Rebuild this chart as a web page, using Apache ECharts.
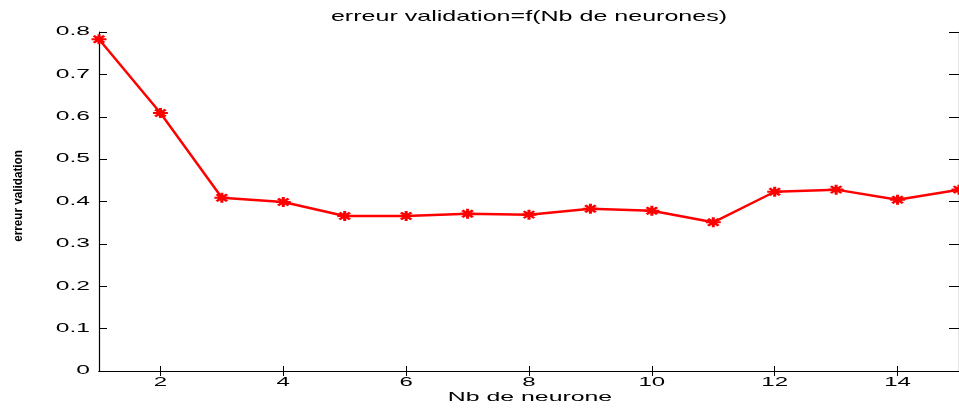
<!DOCTYPE html>
<html lang="fr">
<head>
    <meta charset="utf-8"/>
    <title>erreur validation=f(Nb de neurones)</title>
    <script src="https://cdn.jsdelivr.net/npm/echarts@6/dist/echarts.min.js"></script>
    <style>
        html, body { margin: 0; padding: 0; background: #fff; }
        #chart { width: 959px; height: 408px; }
    </style>
</head>
<body>
<div id="chart"></div>
<script>
    // données
    var neurones = [1, 2, 3, 4, 5, 6, 7, 8, 9, 10, 11, 12, 13, 14, 15];
    var erreurValidation = [0.783, 0.609, 0.409, 0.399, 0.366, 0.366, 0.371, 0.369, 0.383, 0.378, 0.351, 0.423, 0.428, 0.404, 0.428];
    var xTicks = [2, 4, 6, 8, 10, 12, 14];
    var yTicks = [0, 0.1, 0.2, 0.3, 0.4, 0.5, 0.6, 0.7, 0.8];
    var yTickLabels = ['0', '0.1', '0.2', '0.3', '0.4', '0.5', '0.6', '0.7', '0.8'];

    var titre = 'erreur validation=f(Nb de neurones)';
    var xNom = 'Nb de neurone';
    var yNom = 'erreur validation';

    var police = '"Liberation Sans", Arial, Helvetica, sans-serif';
    // étoile style matlab '*'
    var etoile = 'path://M0,5L10,5M5,0L5,10M1.5,1.5L8.5,8.5M8.5,1.5L1.5,8.5';

    var points = [];
    for (var i = 0; i < neurones.length; i++) {
        points.push([neurones[i], erreurValidation[i]]);
    }

    var axeNoir = {show: true, lineStyle: {color: '#000', width: 1.2}};

    var chart = echarts.init(document.getElementById('chart'));
    var option = {
        animation: false,
        backgroundColor: '#fff',
        grid: {left: 99, right: -6, top: 32, bottom: 37, containLabel: false},
        xAxis: [{
            type: 'value', min: 1, max: 15, position: 'bottom',
            axisLine: axeNoir,
            axisTick: {show: true, inside: true, length: 5, customValues: xTicks, lineStyle: {color: '#000'}},
            axisLabel: {show: false},
            splitLine: {show: false}
        }, {
            type: 'value', min: 1, max: 15, position: 'top',
            axisLine: axeNoir,
            axisTick: {show: true, inside: true, length: 5, customValues: xTicks, lineStyle: {color: '#000'}},
            axisLabel: {show: false},
            splitLine: {show: false}
        }],
        yAxis: [{
            type: 'value', min: 0, max: 0.8, interval: 0.1, position: 'left',
            axisLine: axeNoir,
            axisTick: {show: true, inside: true, length: 8, lineStyle: {color: '#000'}},
            axisLabel: {show: false},
            splitLine: {show: false}
        }, {
            type: 'value', min: 0, max: 0.8, interval: 0.1, position: 'right',
            axisLine: axeNoir,
            axisTick: {show: true, inside: true, length: 10, lineStyle: {color: '#000'}},
            axisLabel: {show: false},
            splitLine: {show: false}
        }],
        series: [{
            type: 'line',
            data: points,
            symbol: etoile,
            symbolSize: [15, 10],
            showAllSymbol: true,
            clip: false,
            lineStyle: {color: '#ff0000', width: 2.5},
            itemStyle: {color: '#ff0000', borderColor: '#ff0000', borderWidth: 2.5}
        }]
    };
    chart.setOption(option);

    // textes étirés horizontalement comme sur la figure
    var texte = function (str, x, y, taille, etirement, align, vAlign, rotation, gras) {
        return {
            type: 'text', x: x, y: y, z: 100, silent: true,
            scaleX: etirement, scaleY: 1, rotation: rotation || 0,
            style: {
                text: str, fontSize: taille, fontFamily: police, fill: '#000',
                fontWeight: gras ? 'bold' : 'normal',
                align: align, verticalAlign: vAlign,
                textAlign: align, textVerticalAlign: vAlign
            }
        };
    };

    var graphic = [];
    var basX = chart.convertToPixel({yAxisIndex: 0}, 0);
    var gaucheX = chart.convertToPixel({xAxisIndex: 0}, 1);
    for (var j = 0; j < xTicks.length; j++) {
        var px = chart.convertToPixel({xAxisIndex: 0}, xTicks[j]);
        graphic.push(texte(String(xTicks[j]), px, basX + 12, 12, 2.0, 'center', 'middle'));
    }
    for (var k = 0; k < yTicks.length; k++) {
        var py = chart.convertToPixel({yAxisIndex: 0}, yTicks[k]);
        graphic.push(texte(yTickLabels[k], gaucheX - 9, py, 12, 2.05, 'right', 'middle'));
    }
    graphic.push(texte(titre, 529, 17, 15, 1.67, 'center', 'middle'));
    graphic.push(texte(xNom, 530, 398, 12, 2.07, 'center', 'middle'));
    // nom de l'axe y, tassé dans la figure d'origine
    graphic.push(texte(yNom, 18, 196, 13, 0.9, 'center', 'middle', Math.PI / 2, true));

    chart.setOption({graphic: graphic});
</script>
</body>
</html>
